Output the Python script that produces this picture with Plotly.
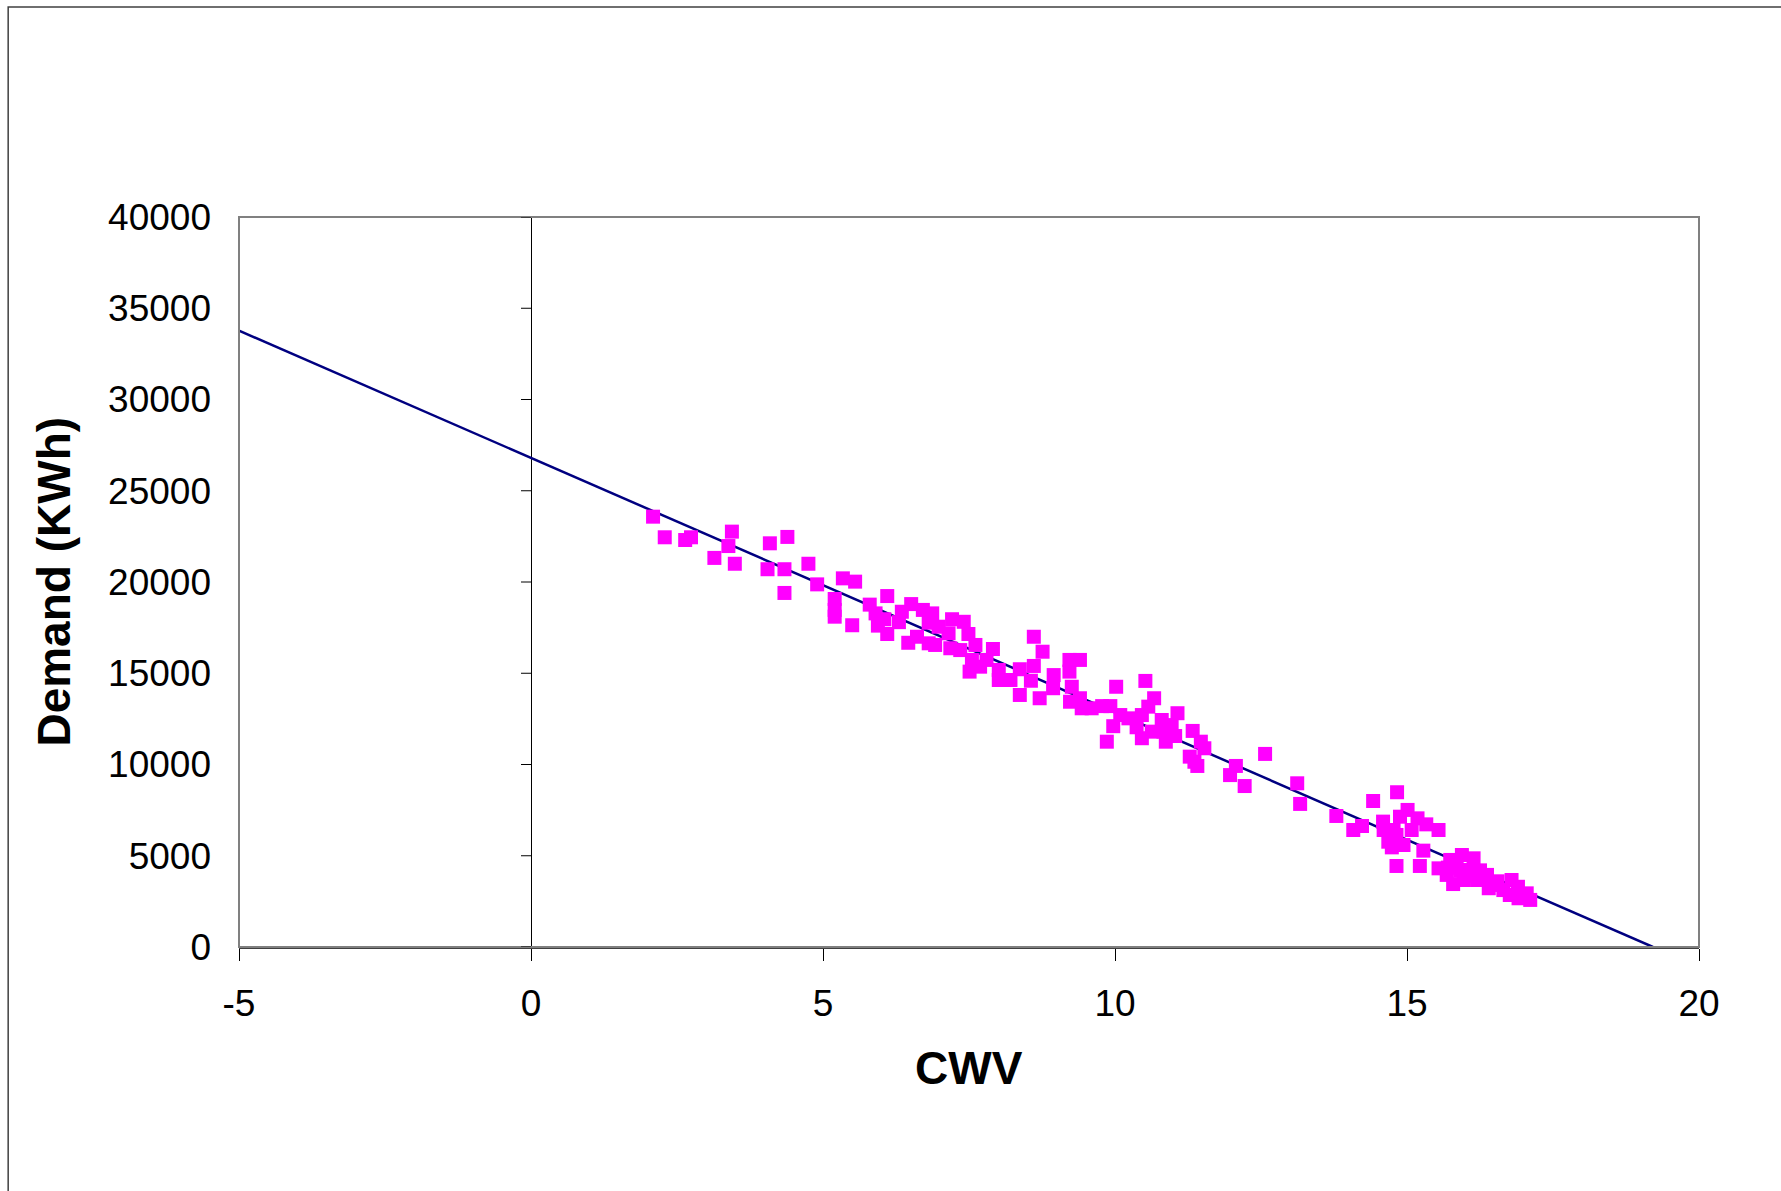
import plotly.graph_objects as go

CWV = [2.09, 2.29, 2.64, 2.74, 3.44, 3.38, 3.14, 3.49, 4.09, 4.39, 4.05, 4.34, 4.34, 4.75, 4.90,
       5.34, 5.55, 5.20, 5.20, 5.20, 5.50, 5.80, 6.10, 5.90, 6.05, 5.94, 6.10, 6.30,
       6.35, 6.51, 6.71, 6.87, 6.46, 6.61, 6.81, 6.81, 6.92, 6.98, 7.21, 7.41, 7.15, 7.18, 7.35,
       7.49, 7.61, 7.55, 7.51, 7.69, 7.91, 7.80, 8.01, 8.01, 8.21, 8.37, 8.37, 8.61, 8.76, 8.61,
       8.56, 8.71, 8.95, 8.94, 9.22, 9.40, 9.22, 9.26, 9.23, 9.40, 9.43, 9.60, 9.78, 9.92, 10.02,
       9.97, 10.09, 10.23,
       10.52, 10.67, 10.57, 9.86, 10.46, 10.37, 10.46, 10.63, 10.80, 10.83, 10.87, 11.07, 10.97,
       11.03, 11.33, 11.47, 11.53, 11.28, 11.41, 11.36, 12.07, 11.97, 12.22, 12.57, 13.12, 13.17,
       13.79, 14.08, 14.23, 14.42, 14.83, 14.59, 14.60, 14.77, 14.68, 14.74, 14.94, 14.88, 15.01,
       15.18, 15.33, 15.08, 15.54, 14.82, 15.28, 15.22, 14.82, 15.54, 15.74, 15.94, 16.14, 15.68,
       15.79, 15.91, 16.08, 15.97, 16.20, 16.37, 16.48, 16.40, 16.65, 16.79, 16.76, 16.91, 17.05,
       17.11, 15.85, 16.00, 16.30, 16.10, 16.55, 16.90, 15.70, 16.25]

DEMAND = [23580, 22450, 22300, 22450, 22760, 21970, 21320, 21000, 22120, 22470, 20700, 20700, 19400, 21000, 19870,
          20200, 20020, 19070, 18470, 18100, 17630, 18760, 19230, 18280, 17960, 17610, 17150, 17800,
          18370, 18790, 18470, 18280, 16670, 17000, 17770, 16640, 16550, 17550, 17960, 17820, 17190, 16370, 16270,
          17150, 16550, 15730, 15090, 15360, 16330, 15730, 15180, 14630, 14630, 15220, 13810, 17000, 16180, 15400,
          14590, 13630, 14900, 14180, 15730, 15730, 15090, 14260, 13440, 13630, 13080, 13080, 13200, 13200, 14260,
          12100, 12710, 12530,
          14580, 13630, 13170, 11250, 12710, 12040, 11440, 11800, 12440, 11800, 11250, 12810, 12160,
          11560, 11840, 11250, 10890, 10430, 9920, 10150, 9920, 9420, 8820, 10580, 8970, 7840,
          7180, 6410, 6630, 8000, 8480, 6870, 6410, 6410, 5770, 5460, 5590, 7140, 7510,
          7050, 6720, 6410, 6410, 4440, 5280, 4440, 6140, 4310, 4770, 5040, 4860, 3950,
          3450, 4220, 4220, 3670, 3670, 3950, 3400, 3220, 3120, 3670, 2850, 2670, 2940,
          2580, 4500, 4000, 3800, 3900, 3600, 3300, 4350, 4200]

# Linear trendline
TREND_INTERCEPT = 26800
TREND_SLOPE = -1395
TREND_X_START = -5

X_TICKS = [-5, 0, 5, 10, 15, 20]
X_TICK_LABELS = ["-5", "0", "5", "10", "15", "20"]
Y_TICKS = [0, 5000, 10000, 15000, 20000, 25000, 30000, 35000, 40000]
Y_TICK_LABELS = ["0", "5000", "10000", "15000", "20000", "25000", "30000", "35000", "40000"]

x_end = -TREND_INTERCEPT / TREND_SLOPE
trend_x = [TREND_X_START, x_end]
trend_y = [TREND_INTERCEPT + TREND_SLOPE * v for v in trend_x]

fig = go.Figure()
fig.add_trace(go.Scatter(x=trend_x, y=trend_y, mode="lines",
                         line=dict(color="#000080", width=2.5),
                         hoverinfo="skip", showlegend=False))
fig.add_trace(go.Scatter(x=CWV, y=DEMAND, mode="markers",
                         marker=dict(symbol="square", size=14, color="#FF00FF",
                                     line=dict(width=0)),
                         showlegend=False))

font_family = "Liberation Sans, Arial, sans-serif"

shapes = [
    # outer chart border
    dict(type="rect", xref="paper", yref="paper", x0=-0.1581, x1=1.3, y0=-0.6, y1=1.2877,
         line=dict(color="#404040", width=1.5), layer="below"),
    # plot area border
    dict(type="rect", xref="paper", yref="paper", x0=0, x1=1, y0=0, y1=1,
         line=dict(color="#808080", width=2), layer="above"),
]
# y-axis ticks at x=0
for t in Y_TICKS:
    shapes.append(dict(type="line", xref="x", yref="y", xsizemode="pixel", xanchor=0,
                       x0=-10, x1=0, y0=t, y1=t, line=dict(color="black", width=1)))

fig.update_layout(
    width=1781, height=1191,
    margin=dict(l=238.5, r=82, t=217, b=244),
    paper_bgcolor="white", plot_bgcolor="white",
    font=dict(family=font_family, size=36, color="black"),
    shapes=shapes,
    annotations=[
        dict(text="<b>CWV</b>", xref="paper", yref="paper", x=0.5, y=-0.166,
             showarrow=False, font=dict(size=46, family=font_family), xanchor="center", yanchor="middle"),
        dict(text="<b>Demand (KWh)</b>", xref="paper", yref="paper", x=-0.127, y=0.5,
             showarrow=False, textangle=-90, font=dict(size=46, family=font_family),
             xanchor="center", yanchor="middle"),
    ],
)
fig.update_xaxes(range=[-5, 20], tickvals=X_TICKS, ticktext=X_TICK_LABELS, ticks="outside",
                 ticklen=12, tickwidth=1, tickcolor="black", showgrid=False, zeroline=True,
                 zerolinecolor="black", zerolinewidth=1, showline=True, linecolor="#404040",
                 linewidth=2, ticklabelstandoff=11, tickfont=dict(size=37))
fig.update_yaxes(range=[0, 40000], tickvals=Y_TICKS, ticktext=Y_TICK_LABELS, ticks="",
                 showgrid=False, zeroline=False, showline=False, ticklabelstandoff=27,
                 tickfont=dict(size=37))

fig.write_html("out.html", post_script="document.body.style.margin='0';",
               config={"displayModeBar": False})
